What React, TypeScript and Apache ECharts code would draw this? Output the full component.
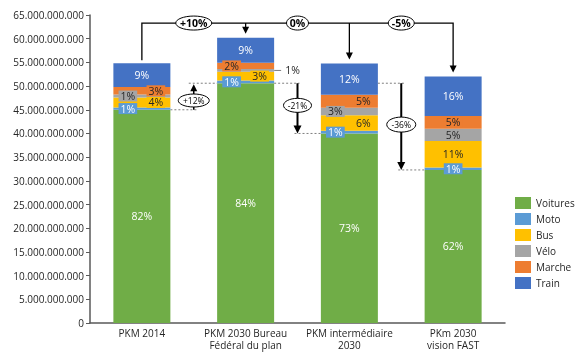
import React, { useEffect, useRef } from "react";
import * as echarts from "echarts";

const categories = [
  "PKM 2014",
  "PKM 2030 Bureau\nFédéral du plan",
  "PKM intermédiaire\n2030",
  "PKm 2030\nvision FAST",
];
const seriesNames = ["Voitures", "Moto", "Bus", "Vélo", "Marche", "Train"];
const voitures = [45.0e9, 50.6e9, 40.0e9, 32.3e9];
const moto = [0.5e9, 0.6e9, 0.55e9, 0.5e9];
const bus = [2.1e9, 1.8e9, 3.3e9, 5.6e9];
const velo = [0.6e9, 0.6e9, 1.6e9, 2.6e9];
const marche = [1.6e9, 1.3e9, 2.7e9, 2.7e9];
const train = [5.0e9, 5.3e9, 6.6e9, 8.3e9];

const voituresPct = ["82%", "84%", "73%", "62%"];
const motoPct = ["1%", "1%", "1%", "1%"];
const busPct = ["4%", "3%", "6%", "11%"];
const veloPct = ["1%", "1%", "3%", "5%"];
const marchePct = ["3%", "2%", "5%", "5%"];
const trainPct = ["9%", "9%", "12%", "16%"];

const totalChange = ["+10%", "0%", "-5%"];
const carChange = ["+12%", "-21%", "-36%"];
const bracketLevel = 63.3e9;

const yTicks = { min: 0, max: 65e9, interval: 5e9 };

// label placement (style only)
const motoPos = ["l", "l", "l", "c"];
const busPos = ["r", "r", "r", "c"];
const veloPos = ["l", "out", "l", "c"];
const marchePos = ["r", "l", "r", "c"];

const colors = ["#70AD47", "#5B9BD5", "#FFC000", "#A5A5A5", "#ED7D31", "#4472C4"];
const FONT = "'Open Sans', sans-serif";
const BAR_W = 57;

function placement(p: string) {
  if (p === "l") return { position: "inside", offset: [-14, 0] };
  if (p === "r") return { position: "inside", offset: [14, 0] };
  if (p === "out") return { position: "right", distance: 9, backgroundColor: "transparent" };
  return { position: "inside" };
}

function fmt(v: number) {
  return String(Math.round(v)).replace(/\B(?=(\d{3})+(?!\d))/g, ".");
}

export default function App() {
  const ref = useRef<HTMLDivElement>(null);
  useEffect(() => {
    if (!ref.current) return;
    const chart = echarts.init(ref.current, null, { renderer: "svg" });
    const values = [voitures, moto, bus, velo, marche, train];
    const pcts = [voituresPct, motoPct, busPct, veloPct, marchePct, trainPct];
    const poss = [null, motoPos, busPos, veloPos, marchePos, null];
    const labelBase = [
      { color: "#fff" },
      { color: "#fff", backgroundColor: colors[1], padding: [0, 2] },
      { color: "#262626", backgroundColor: colors[2], padding: [0, 2] },
      { color: "#262626", backgroundColor: colors[3], padding: [0, 2] },
      { color: "#262626", backgroundColor: colors[4], padding: [0, 2] },
      { color: "#fff" },
    ];
    const series = seriesNames.map((name, s) => ({
      name,
      type: "bar",
      stack: "total",
      barWidth: BAR_W,
      itemStyle: { color: colors[s] },
      label: {
        show: true,
        fontFamily: FONT,
        fontSize: 10.5,
        lineHeight: 11,
        ...labelBase[s],
      },
      data: values[s].map((v, i) => ({
        value: v,
        label: {
          formatter: pcts[s][i],
          ...(poss[s] ? placement(poss[s]![i]) : { position: "inside" }),
        },
      })),
    }));

    chart.setOption({
      animation: false,
      textStyle: { fontFamily: FONT },
      grid: { left: 90, right: 75, top: 15, bottom: 33 },
      legend: {
        orient: "vertical",
        left: 510,
        top: 192,
        itemWidth: 16,
        itemHeight: 12,
        itemGap: 4,
        icon: "rect",
        textStyle: { fontFamily: FONT, fontSize: 10, color: "#262626" },
        data: seriesNames,
      },
      xAxis: {
        type: "category",
        data: categories,
        axisLine: { lineStyle: { color: "#595959", width: 1.5 } },
        axisTick: { show: false },
        axisLabel: { interval: 0, fontFamily: FONT, fontSize: 10, color: "#262626", lineHeight: 12, margin: 4 },
      },
      yAxis: {
        type: "value",
        min: yTicks.min,
        max: yTicks.max,
        interval: yTicks.interval,
        splitLine: { show: false },
        axisLine: { show: true, lineStyle: { color: "#595959", width: 1.5 } },
        axisTick: { show: true, length: 4, lineStyle: { color: "#595959" } },
        axisLabel: { fontFamily: FONT, fontSize: 10, color: "#262626", formatter: fmt, margin: 6 },
      },
      series,
    });

    const px = (ci: number, v: number) => chart.convertToPixel({ gridIndex: 0 }, [ci, v]) as number[];
    const totals = categories.map((_, i) => values.reduce((a, arr) => a + arr[i], 0));
    const cx = categories.map((_, i) => px(i, 0)[0]);
    const topY = totals.map((t, i) => px(i, t)[1]);
    const greenY = voitures.map((v, i) => px(i, v)[1]);
    const yB = px(0, bracketLevel)[1];
    const half = BAR_W / 2;
    const mid = [0, 1, 2].map((i) => (cx[i] + cx[i + 1]) / 2);
    const els: any[] = [];
    const lineC = "#000";
    const arrowDown = (x: number, tip: number, w = 3.5, h = 7) => ({
      type: "polygon",
      shape: { points: [[x - w, tip - h], [x + w, tip - h], [x, tip]] },
      style: { fill: lineC },
    });
    const arrowUp = (x: number, tip: number, w = 3.5, h = 7) => ({
      type: "polygon",
      shape: { points: [[x - w, tip + h], [x + w, tip + h], [x, tip]] },
      style: { fill: lineC },
    });
    const dotted = (x1: number, x2: number, y: number) => ({
      type: "line",
      shape: { x1, y1: y, x2, y2: y },
      style: { stroke: "#7f7f7f", lineWidth: 1, lineDash: [2, 2] },
    });
    // bracket
    els.push({
      type: "polyline",
      shape: {
        points: [
          [cx[0], topY[0] - 3],
          [cx[0], yB],
          [cx[3], yB],
          [cx[3], topY[3] - 10],
        ],
      },
      style: { stroke: lineC, lineWidth: 1.3, fill: null },
    });
    els.push(arrowDown(cx[3], topY[3] - 4));
    for (const i of [1, 2]) {
      els.push({
        type: "line",
        shape: { x1: cx[i], y1: yB, x2: cx[i], y2: topY[i] - 10 },
        style: { stroke: lineC, lineWidth: 1.3 },
      });
      els.push(arrowDown(cx[i], topY[i] - 4));
    }
    // dotted reference lines
    els.push(dotted(cx[0] + half, mid[0] + 3, greenY[0]));
    els.push(dotted(mid[0] - 5, cx[1] - half, greenY[1]));
    els.push(dotted(cx[1] + half, mid[1] + 2, greenY[1]));
    els.push(dotted(cx[2] + half, mid[2] + 3, greenY[1]));
    els.push(dotted(mid[1] - 3, cx[2] - half, greenY[2]));
    els.push(dotted(mid[2] - 3, cx[3] - half, greenY[3]));
    // car change arrows
    els.push({
      type: "line",
      shape: { x1: mid[0], y1: greenY[0], x2: mid[0], y2: greenY[1] + 6 },
      style: { stroke: lineC, lineWidth: 1.5 },
    });
    els.push(arrowUp(mid[0], greenY[1] + 1));
    els.push({
      type: "line",
      shape: { x1: mid[1], y1: greenY[1], x2: mid[1], y2: greenY[2] - 6 },
      style: { stroke: lineC, lineWidth: 2 },
    });
    els.push(arrowDown(mid[1], greenY[2], 4, 8));
    els.push({
      type: "line",
      shape: { x1: mid[2], y1: greenY[1], x2: mid[2], y2: greenY[3] - 6 },
      style: { stroke: lineC, lineWidth: 2 },
    });
    els.push(arrowDown(mid[2], greenY[3], 4, 8));

    const bubble = (x: number, y: number, rx: number, ry: number, text: string, bold: boolean, size: number) => {
      els.push({
        type: "ellipse",
        shape: { cx: x, cy: y, rx, ry },
        style: { fill: "#fff", stroke: lineC, lineWidth: 1 },
        z: 10,
      });
      els.push({
        type: "text",
        x,
        y,
        z: 11,
        style: {
          text,
          align: "center",
          verticalAlign: "middle",
          fontFamily: FONT,
          fontSize: size,
          fontWeight: bold ? "bold" : "normal",
          fill: "#000",
        },
      });
    };
    bubble(mid[0], yB, 18, 7, totalChange[0], true, 10.5);
    bubble(mid[1], yB, 11, 7, totalChange[1], true, 10.5);
    bubble(mid[2], yB, 13, 7, totalChange[2], true, 10.5);
    bubble(mid[0], (greenY[0] + greenY[1]) / 2 + 4, 15.5, 6.5, carChange[0], false, 8.5);
    bubble(mid[1], (greenY[1] + greenY[2]) / 2 - 3, 14, 7, carChange[1], false, 8.5);
    bubble(mid[2], (greenY[1] + greenY[3]) / 2 - 2, 14.5, 7.5, carChange[2], false, 8.5);

    // leader line for outside Vélo label on bar 2
    const veloMidY = px(1, voitures[1] + moto[1] + bus[1] + velo[1] / 2)[1];
    els.push({
      type: "line",
      shape: { x1: cx[1] + half, y1: veloMidY, x2: cx[1] + half + 7, y2: veloMidY },
      style: { stroke: "#7f7f7f", lineWidth: 1 },
    });

    chart.setOption({ graphic: { elements: els } });
    return () => chart.dispose();
  }, []);
  return <div ref={ref} style={{ position: "fixed", left: 0, top: 0, width: 580, height: 356 }} />;
}
